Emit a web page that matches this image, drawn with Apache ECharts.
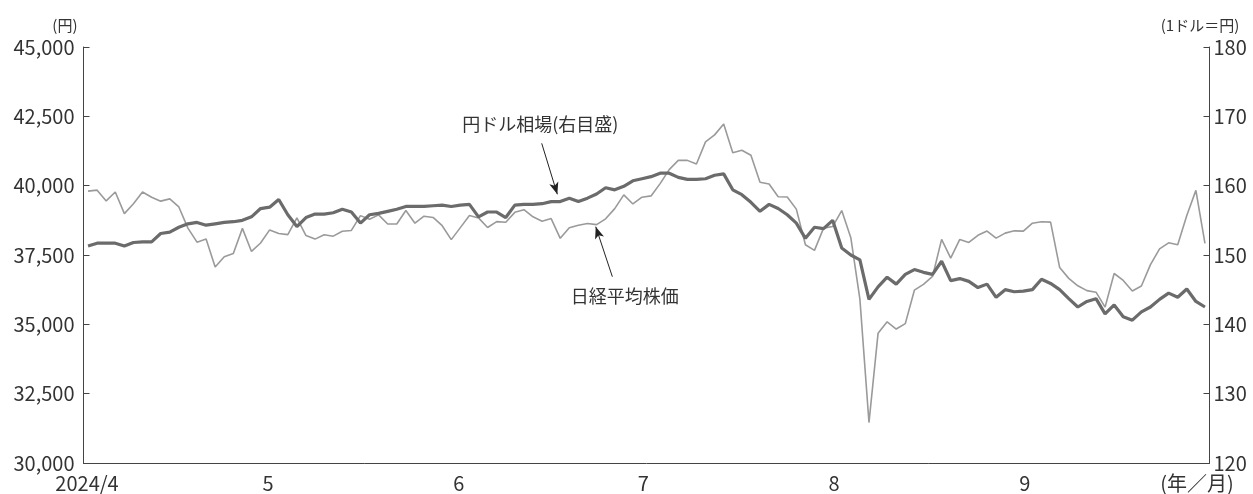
<!DOCTYPE html>
<html>
<head>
<meta charset="utf-8">
<script src="https://cdn.jsdelivr.net/npm/echarts@6/dist/echarts.min.js"></script>
<style>
html,body{margin:0;padding:0;background:#fff;}
#chart{width:1253px;height:494px;}
</style>
</head>
<body>
<div id="chart"></div>
<script>
// Trading days (Tokyo), April - September 2024
const dates = [
  '2024-04-01','2024-04-02','2024-04-03','2024-04-04','2024-04-05','2024-04-08','2024-04-09','2024-04-10','2024-04-11','2024-04-12',
  '2024-04-15','2024-04-16','2024-04-17','2024-04-18','2024-04-19','2024-04-22','2024-04-23','2024-04-24','2024-04-25','2024-04-26','2024-04-30',
  '2024-05-01','2024-05-02','2024-05-07','2024-05-08','2024-05-09','2024-05-10','2024-05-13','2024-05-14','2024-05-15','2024-05-16',
  '2024-05-17','2024-05-20','2024-05-21','2024-05-22','2024-05-23','2024-05-24','2024-05-27','2024-05-28','2024-05-29','2024-05-30','2024-05-31',
  '2024-06-03','2024-06-04','2024-06-05','2024-06-06','2024-06-07','2024-06-10','2024-06-11','2024-06-12','2024-06-13','2024-06-14',
  '2024-06-17','2024-06-18','2024-06-19','2024-06-20','2024-06-21','2024-06-24','2024-06-25','2024-06-26','2024-06-27','2024-06-28',
  '2024-07-01','2024-07-02','2024-07-03','2024-07-04','2024-07-05','2024-07-08','2024-07-09','2024-07-10','2024-07-11','2024-07-12',
  '2024-07-16','2024-07-17','2024-07-18','2024-07-19','2024-07-22','2024-07-23','2024-07-24','2024-07-25','2024-07-26','2024-07-29','2024-07-30','2024-07-31',
  '2024-08-01','2024-08-02','2024-08-05','2024-08-06','2024-08-07','2024-08-08','2024-08-09','2024-08-13','2024-08-14','2024-08-15',
  '2024-08-16','2024-08-19','2024-08-20','2024-08-21','2024-08-22','2024-08-23','2024-08-26','2024-08-27','2024-08-28','2024-08-29','2024-08-30',
  '2024-09-02','2024-09-03','2024-09-04','2024-09-05','2024-09-06','2024-09-09','2024-09-10','2024-09-11','2024-09-12','2024-09-13',
  '2024-09-17','2024-09-18','2024-09-19','2024-09-20','2024-09-24','2024-09-25','2024-09-26','2024-09-27','2024-09-30'
];

// 日経平均株価 (円, left axis)
const nikkei = [
  39803,39838,39451,39773,38992,39347,39773,39582,39442,39523,39232,38471,37962,38079,37068,37438,37552,38460,37628,37934,38405,
  38274,38236,38835,38202,38073,38229,38179,38356,38385,38920,38787,38946,38617,38617,39103,38646,38900,38855,38556,38054,38487,
  38923,38837,38490,38703,38683,39038,39134,38876,38720,38814,38102,38482,38570,38633,38596,38804,39173,39667,39341,39583,
  39631,40074,40580,40913,40912,40780,41580,41831,42224,41190,41275,41097,40126,40063,39599,39594,39154,37869,37667,38468,38525,39101,
  38126,35909,31458,34675,35089,34831,35025,36232,36442,36726,38062,37388,38063,37951,38211,38364,38110,38288,38371,38362,38647,
  38700,38686,37047,36657,36391,36215,36159,35619,36833,36581,36203,36380,37155,37723,37940,37870,38926,39830,37919
];

// 円ドル相場 (1ドル=円, right axis)
const usdjpy = [
  151.3,151.7,151.7,151.7,151.3,151.8,151.9,151.9,153.1,153.3,154.0,154.5,154.7,154.3,154.5,154.7,154.8,155.0,155.5,156.7,156.9,
  158.0,155.8,154.1,155.4,155.9,155.9,156.1,156.6,156.2,154.6,155.8,156.0,156.3,156.6,157.0,157.0,157.0,157.1,157.2,157.0,157.2,
  157.3,155.5,156.2,156.2,155.4,157.2,157.3,157.3,157.4,157.7,157.7,158.2,157.7,158.2,158.8,159.7,159.4,159.9,160.7,161.0,
  161.3,161.8,161.8,161.2,160.9,160.9,161.0,161.5,161.7,159.4,158.7,157.6,156.3,157.3,156.7,155.8,154.6,152.4,154.0,153.8,155.0,151.0,
  150.0,149.3,143.6,145.4,146.8,145.8,147.2,147.9,147.5,147.2,149.1,146.3,146.6,146.2,145.3,145.8,143.9,145.0,144.7,144.8,145.0,
  146.5,145.9,145.0,143.7,142.5,143.3,143.7,141.5,142.8,141.1,140.6,141.8,142.5,143.6,144.5,143.9,145.1,143.3,142.5
];

// Month tick dates and their labels
const monthTicks = ['2024-04-01','2024-05-01','2024-06-01','2024-07-01','2024-08-01','2024-09-01','2024-10-01'];
const monthLabels = ['2024/4','5','6','7','8','9','(年／月)'];

// Annotations (in trading-day index / left-axis value space)
const notes = [
  { text: '円ドル相場(右目盛)', at: [49.8, 42206] },
  { text: '日経平均株価', at: [59.1, 36022] }
];
const arrows = [
  [[49.96, 41527], [51.68, 39689]],
  [[57.74, 36718], [55.91, 38521]]
];

function toDay(s) {
  const p = s.split('-').map(Number);
  return Date.UTC(p[0], p[1] - 1, p[2]) / 86400000;
}
const day0 = toDay(monthTicks[0]);
const tickDays = monthTicks.map(s => toDay(s) - day0);

const FONT = "'Noto Sans CJK JP', 'Noto Sans', sans-serif";
const TXT = '#333';
const AX = '#444';

const chart = echarts.init(document.getElementById('chart'), null, { renderer: 'canvas' });
chart.setOption({
  animation: false,
  backgroundColor: '#fff',
  textStyle: { fontFamily: FONT },
  grid: { left: 83.5, right: 43.5, top: 47, bottom: 31, outerBoundsMode: 'none' },
  xAxis: [
    {
      type: 'category', data: dates, boundaryGap: true, position: 'bottom',
      axisLine: { show: true, onZero: false, lineStyle: { color: AX, width: 1 } },
      axisTick: { show: false }, axisLabel: { show: false }, splitLine: { show: false }
    },
    {
      type: 'value', position: 'bottom', gridIndex: 0,
      min: tickDays[0], max: tickDays[tickDays.length - 1],
      axisLine: { show: false, onZero: false }, axisTick: { show: false }, splitLine: { show: false },
      axisLabel: {
        customValues: tickDays,
        showMinLabel: true, showMaxLabel: true, hideOverlap: false,
        fontSize: 20, color: TXT, fontFamily: FONT, margin: 10,
        formatter: function (value) {
          const i = tickDays.indexOf(value);
          if (i < 0) return '';
          if (i === 0) return '{a|' + monthLabels[i] + '}';
          if (i === tickDays.length - 1) return '{b|' + monthLabels[i] + '}';
          return monthLabels[i];
        },
        rich: {
          a: { fontSize: 20, color: TXT, fontFamily: FONT, padding: [0, 0, 0, 7] },
          b: { fontSize: 20, color: TXT, fontFamily: FONT, padding: [0, 25, 0, 0] }
        }
      }
    },
    { type: 'value', min: -0.5, max: 123.5, show: false, gridIndex: 0, axisLine: { onZero: false } }
  ],
  yAxis: [
    {
      type: 'value', min: 30000, max: 45000, interval: 2500, position: 'left',
      name: '(円)', nameLocation: 'end', nameGap: 14,
      nameTextStyle: { fontSize: 15, color: TXT, fontFamily: FONT, align: 'right', padding: [0, 6, 0, 0] },
      axisLine: { show: true, onZero: false, lineStyle: { color: AX, width: 1 } },
      axisTick: { show: true, inside: true, length: 6, lineStyle: { color: AX, width: 1 } },
      axisLabel: { fontSize: 20, color: TXT, fontFamily: FONT, margin: 9,
        formatter: v => v.toLocaleString('en-US') },
      splitLine: { show: false }
    },
    {
      type: 'value', min: 120, max: 180, interval: 10, position: 'right',
      name: '(1ドル＝円)', nameLocation: 'end', nameGap: 14,
      nameTextStyle: { fontSize: 15, color: TXT, fontFamily: FONT, align: 'center', padding: [0, 19, 0, 0] },
      axisLine: { show: true, onZero: false, lineStyle: { color: AX, width: 1 } },
      axisTick: { show: true, inside: true, length: 6, lineStyle: { color: AX, width: 1 } },
      axisLabel: { fontSize: 20, color: TXT, fontFamily: FONT, margin: 4 },
      splitLine: { show: false }
    }
  ],
  series: [
    {
      name: '日経平均株価', type: 'line', xAxisIndex: 0, yAxisIndex: 0, data: nikkei,
      symbol: 'none', lineStyle: { color: '#9a9a9a', width: 1.6 }, z: 2
    },
    {
      name: '円ドル相場', type: 'line', xAxisIndex: 0, yAxisIndex: 1, data: usdjpy,
      symbol: 'none', lineStyle: { color: '#6b6b6b', width: 3.2 }, z: 3
    },
    {
      name: 'annotations', type: 'line', xAxisIndex: 2, yAxisIndex: 0, data: [],
      silent: true, z: 5,
      markLine: {
        silent: true, animation: false,
        symbol: ['none', 'arrow'], symbolSize: [7, 12],
        lineStyle: { color: '#222', width: 1, type: 'solid' },
        label: { show: false },
        emphasis: { disabled: true },
        data: arrows.map(a => [{ coord: a[0] }, { coord: a[1] }])
      },
      markPoint: {
        silent: true, animation: false,
        symbol: 'circle', symbolSize: 0,
        itemStyle: { color: 'transparent' },
        label: { show: true, position: 'inside', formatter: d => d.name,
          fontSize: 18, color: TXT, fontFamily: FONT },
        data: notes.map(n => ({ name: n.text, coord: n.at }))
      }
    }
  ]
});
</script>
</body>
</html>
